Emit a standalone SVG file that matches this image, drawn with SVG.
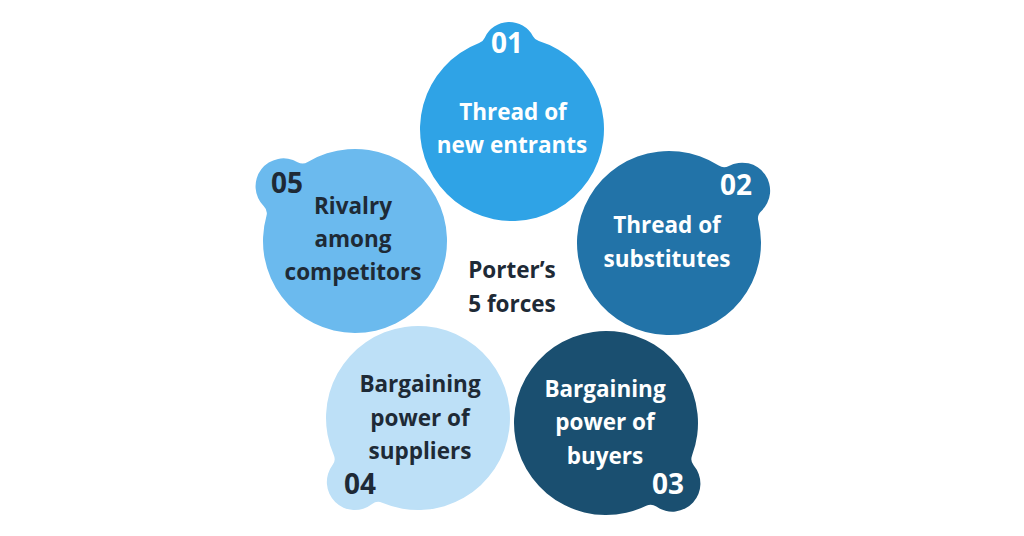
<svg xmlns="http://www.w3.org/2000/svg" width="1024" height="536" viewBox="0 0 1024 536">
  <defs>
    <path id="blob" d="M85.49,33.99 A92,92 0 1 1 85.49,-33.99 A10,10 0 0 0 93.52,-27.77 A28,28 0 0 1 93.52,27.77 A10,10 0 0 0 85.49,33.99 Z"/>
    <path id="blob1" d="M87.01,29.88 A92,92 0 1 1 87.01,-29.88 A10,10 0 0 0 92.02,-24.18 A27,27 0 0 1 92.02,24.18 A10,10 0 0 0 87.01,29.88 Z"/>
  </defs>
  <style>
    text { font-family: "Open Sans", "Liberation Sans", sans-serif; font-weight: 700; text-anchor: middle; }
    .lbl { font-size: 22.5px; }
    .num { font-size: 28px; }
    .light { fill: #ffffff; }
    .dark { fill: #1e2a36; }
  </style>
  <rect width="1024" height="536" fill="#ffffff"/>
  <g id="connectors"></g>
  <g id="node1">
    <use href="#blob1" transform="translate(512,129) rotate(-92)" fill="#2fa3e6"/>
    <text class="num light" x="507" y="53">01</text>
    <text class="lbl light" x="513" y="120">Thread of</text>
    <text class="lbl light" x="512" y="153">new entrants</text>
  </g>
  <g id="node2">
    <use href="#blob" transform="translate(669,243) rotate(-35.6)" fill="#2273a8"/>
    <text class="num light" x="736" y="195">02</text>
    <text class="lbl light" x="667" y="233">Thread of</text>
    <text class="lbl light" x="667" y="267">substitutes</text>
  </g>
  <g id="node3">
    <use href="#blob" transform="translate(606,423) rotate(42.4)" fill="#1a4f70"/>
    <text class="num light" x="668" y="494">03</text>
    <text class="lbl light" x="605" y="397">Bargaining</text>
    <text class="lbl light" x="605" y="430">power of</text>
    <text class="lbl light" x="605" y="464">buyers</text>
  </g>
  <g id="node4">
    <use href="#blob" transform="translate(418,418) rotate(134.6)" fill="#bde0f7"/>
    <text class="num dark" x="360" y="494">04</text>
    <text class="lbl dark" x="420" y="392">Bargaining</text>
    <text class="lbl dark" x="420" y="426">power of</text>
    <text class="lbl dark" x="420" y="459">suppliers</text>
  </g>
  <g id="node5">
    <use href="#blob" transform="translate(355,241) rotate(-142.6)" fill="#6bbaee"/>
    <text class="num dark" x="287" y="193">05</text>
    <text class="lbl dark" x="353" y="214">Rivalry</text>
    <text class="lbl dark" x="353" y="247">among</text>
    <text class="lbl dark" x="353" y="280">competitors</text>
  </g>
  <g id="center">
    <text class="lbl dark" x="512" y="278">Porter’s</text>
    <text class="lbl dark" x="512" y="312">5 forces</text>
  </g>
</svg>
